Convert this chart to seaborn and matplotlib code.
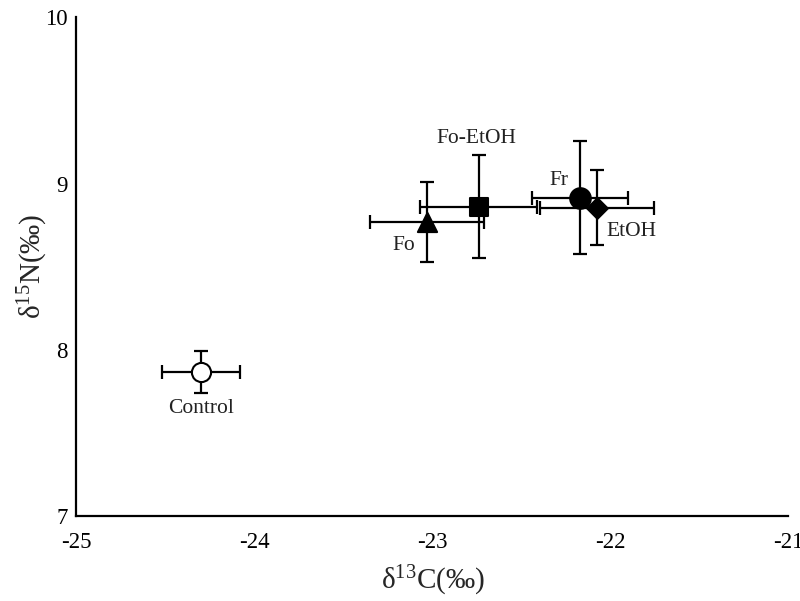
import matplotlib
matplotlib.use("Agg")
import matplotlib.pyplot as plt
import seaborn as sns
import pandas as pd

groups = ["Control", "Fo", "Fo-EtOH", "Fr", "EtOH"]
d13C = [-24.30, -23.03, -22.74, -22.17, -22.075]
d15N = [7.868, 8.77, 8.86, 8.916, 8.856]
d13C_err = [0.217, 0.32, 0.33, 0.27, 0.32]
d15N_err = [0.125, 0.24, 0.31, 0.34, 0.225]
markers = {"Control": "o", "Fo": "^", "Fo-EtOH": "s", "Fr": "o", "EtOH": "D"}
facecol = {"Control": "white", "Fo": "black", "Fo-EtOH": "black", "Fr": "black", "EtOH": "black"}
msize = {"Control": 190, "Fo": 190, "Fo-EtOH": 170, "Fr": 220, "EtOH": 110}
label_pos = {"Control": (-24.30, 7.646), "Fo": (-23.16, 8.628), "Fo-EtOH": (-22.755, 9.27),
             "Fr": (-22.29, 9.02), "EtOH": (-21.88, 8.71)}
xticks = [-25, -24, -23, -22, -21]
yticks = [7, 8, 9, 10]

sns.set_theme(style="white")
plt.rcParams["font.family"] = ["Liberation Serif", "DejaVu Serif"]
plt.rcParams["mathtext.fontset"] = "custom"
plt.rcParams["mathtext.rm"] = "Liberation Serif"
plt.rcParams["mathtext.it"] = "Liberation Serif:italic"

df = pd.DataFrame({"group": groups, "x": d13C, "y": d15N, "xe": d13C_err, "ye": d15N_err})

fig = plt.figure(figsize=(8, 6.01), dpi=100)
ax = fig.add_axes([0.0956, 0.1406, 0.89, 0.831])

for _, r in df.iterrows():
    ax.errorbar(r["x"], r["y"], xerr=r["xe"], yerr=r["ye"], fmt="none",
                ecolor="black", elinewidth=1.6, capsize=5, capthick=1.6, zorder=2)

for g in groups:
    sub = df[df["group"] == g]
    sns.scatterplot(data=sub, x="x", y="y", marker=markers[g], s=msize[g],
                    color=facecol[g], edgecolor="black", linewidth=1.5, ax=ax, zorder=3, legend=False)

for g in groups:
    lx, ly = label_pos[g]
    ax.text(lx, ly, g, ha="center", va="center", fontsize=15.5, color="#222222")

ax.set_xlim(-25, -21)
ax.set_ylim(7, 10)
ax.set_xticks(xticks)
ax.set_yticks(yticks)
ax.set_xticklabels([str(t) for t in xticks])
ax.set_yticklabels([str(t) for t in yticks])
ax.tick_params(direction="in", length=6, width=1.5, labelsize=16.5, colors="black")
ax.tick_params(axis="x", pad=11)
ax.tick_params(axis="y", pad=6.5)
for s in ["top", "right"]:
    ax.spines[s].set_visible(False)
for s in ["left", "bottom"]:
    ax.spines[s].set_color("black")
    ax.spines[s].set_linewidth(1.6)
ax.set_xlabel("δ$^{13}$C(‰)", fontsize=21, labelpad=8)
ax.set_ylabel("δ$^{15}$N(‰)", fontsize=21, labelpad=-4)
ax.patch.set_alpha(0)

fig.savefig("out.png", dpi=100)
